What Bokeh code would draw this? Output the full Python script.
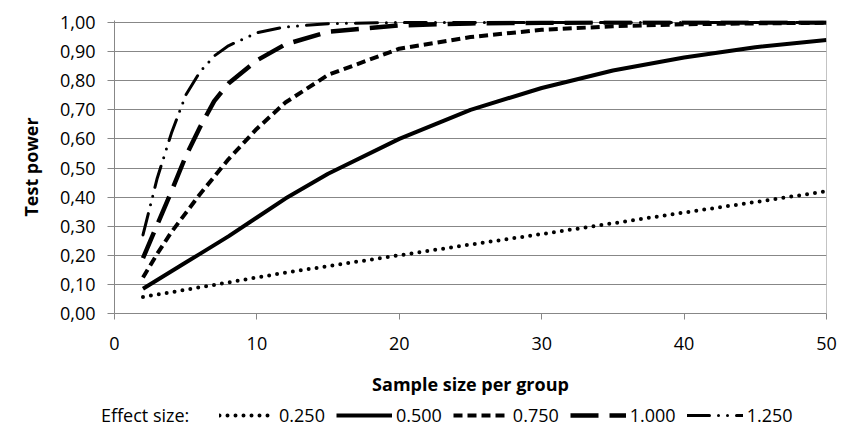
from bokeh.plotting import figure
from bokeh.models import (Range1d, FixedTicker, CustomJSTickFormatter, Legend,
                          LegendItem, Span)
from bokeh.layouts import column
from bokeh.embed import file_html
from bokeh.resources import INLINE

# ---- data ----
n = [2, 3, 4, 5, 6, 7, 8, 10, 12, 15, 20, 25, 30, 35, 40, 45, 50]
power_025 = [0.057, 0.065, 0.073, 0.082, 0.090, 0.098, 0.107, 0.124, 0.140, 0.163,
             0.200, 0.237, 0.273, 0.310, 0.347, 0.383, 0.420]
power_050 = [0.085, 0.115, 0.145, 0.175, 0.205, 0.235, 0.265, 0.330, 0.395, 0.480,
             0.600, 0.700, 0.775, 0.835, 0.880, 0.915, 0.940]
power_075 = [0.124, 0.205, 0.280, 0.345, 0.410, 0.470, 0.530, 0.635, 0.725, 0.820,
             0.910, 0.950, 0.975, 0.987, 0.994, 0.997, 0.999]
power_100 = [0.190, 0.305, 0.420, 0.540, 0.640, 0.730, 0.790, 0.870, 0.925, 0.968,
             0.990, 0.997, 0.999, 1.000, 1.000, 1.000, 1.000]
power_125 = [0.270, 0.465, 0.620, 0.750, 0.830, 0.885, 0.920, 0.965, 0.985, 0.996,
             1.000, 1.000, 1.000, 1.000, 1.000, 1.000, 1.000]
effect_labels = ["0.250", "0.500", "0.750", "1.000", "1.250"]
legend_title = "Effect size:"
x_ticks = [0, 10, 20, 30, 40, 50]
y_ticks = [0.0, 0.1, 0.2, 0.3, 0.4, 0.5, 0.6, 0.7, 0.8, 0.9, 1.0]

FONT = "Open Sans"
GRAY = "#878787"

series = [power_025, power_050, power_075, power_100, power_125]
styles = [
    dict(line_width=4, line_dash="0 8", line_cap="round"),
    dict(line_width=4),
    dict(line_width=4, line_dash="9 5"),
    dict(line_width=4.5, line_dash="28 11"),
    dict(line_width=3, line_dash="22 9 0 9 0 9", line_cap="round"),
]

# ---------------- main chart ----------------
p = figure(frame_width=712, frame_height=293,
           min_border_left=114, min_border_right=22,
           min_border_top=20, min_border_bottom=85,
           x_range=Range1d(0, 50), y_range=Range1d(0, 1.0069),
           output_backend="svg", toolbar_location=None,
           background_fill_color="white", border_fill_color="white")

p.outline_line_alpha = 0
p.xgrid.grid_line_color = None
p.ygrid.grid_line_color = GRAY
p.ygrid.grid_line_width = 1
p.ygrid.ticker = FixedTicker(ticks=y_ticks)

p.xaxis.ticker = FixedTicker(ticks=x_ticks)
p.yaxis.ticker = FixedTicker(ticks=y_ticks)
p.yaxis.formatter = CustomJSTickFormatter(code="return tick.toFixed(2).replace('.', ',');")

for ax in (p.xaxis[0], p.yaxis[0]):
    ax.axis_line_color = GRAY
    ax.major_tick_line_color = GRAY
    ax.minor_tick_line_color = None
    ax.major_tick_in = 0
    ax.major_label_text_font = FONT
    ax.major_label_text_font_size = "18px"
    ax.major_label_text_color = "black"
    ax.axis_label_text_font = FONT
    ax.axis_label_text_font_size = "18px"
    ax.axis_label_text_font_style = "bold"
    ax.axis_label_text_color = "black"

p.xaxis.major_tick_out = 6
p.xaxis.major_label_standoff = 17
p.xaxis.axis_label = "Sample size per group"
p.xaxis.axis_label_standoff = 19

p.yaxis.major_tick_out = 7
p.yaxis.major_label_standoff = 12
p.yaxis.axis_label = "Test power"
p.yaxis.axis_label_standoff = 14

# right border of the plot area
p.add_layout(Span(location=50, dimension="height", line_color=GRAY, line_width=1))

for ys, st in zip(series, styles):
    p.line(n, ys, line_color="black", **st)

# ---------------- legend strip (same series, shown only as legend keys) ----------------
lg = figure(frame_width=848, frame_height=44, min_border=0,
            x_range=Range1d(1000, 1001), y_range=Range1d(0, 1),
            x_axis_location=None, y_axis_location=None,
            output_backend="svg", toolbar_location=None,
            background_fill_color="white", border_fill_color="white")
lg.outline_line_color = None
lg.grid.visible = False

blank = lg.line(n, power_025, line_alpha=0)
items = [LegendItem(label=legend_title + "    ", renderers=[blank])]
for lab, ys, st in zip(effect_labels, series, styles):
    r = lg.line(n, ys, line_color="black", **st)
    items.append(LegendItem(label=lab, renderers=[r]))

legend = Legend(items=items, orientation="horizontal", location=(41, 15),
                glyph_width=56, glyph_height=20, label_standoff=4, spacing=11,
                padding=0, margin=0, border_line_alpha=0, background_fill_alpha=0,
                label_text_font=FONT, label_text_font_size="18px",
                label_text_color="black")
lg.add_layout(legend, "center")

layout = column(p, lg, spacing=0)

open("out.html", "w").write(file_html(layout, INLINE))
